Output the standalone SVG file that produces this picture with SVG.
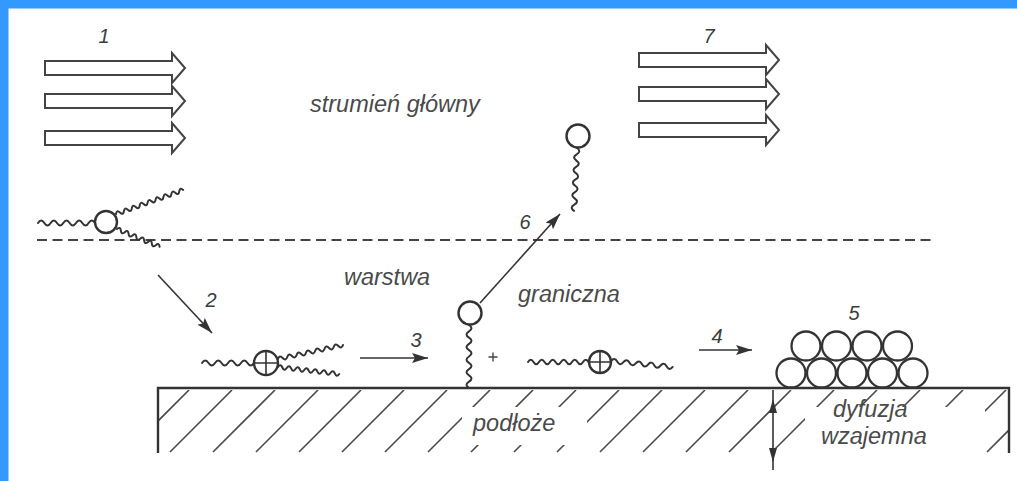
<svg xmlns="http://www.w3.org/2000/svg" width="1017" height="481" viewBox="0 0 1017 481">
  <style>
    .txt { font-family: "Liberation Sans", Arial, sans-serif; font-style: italic; fill: #4a4a4a; font-size: 23.5px; }
    .num { font-family: "Liberation Sans", Arial, sans-serif; font-style: italic; fill: #3c3c3c; font-size: 20px; text-anchor: middle; }
    .blk { fill: #fff; stroke: #444; stroke-width: 2; stroke-linejoin: miter; }
    .wv { fill: none; stroke: #333; stroke-width: 2; stroke-linecap: round; }
    .mol { fill: #fff; stroke: #333; stroke-width: 2.4; }
    .crs { stroke: #333; stroke-width: 1.6; }
    .con { fill: none; stroke: #333; stroke-width: 1.6; }
    .edge { fill: none; stroke: #333; stroke-width: 2.4; }
    .hatch { fill: none; stroke: #4a4a4a; stroke-width: 1.6; }
  </style>
  <defs>
    <!-- hollow block arrow, origin at left end of the shaft -->
    <path id="blk" d="M0 -7H127V-15L140 0L127 15V7H0Z"/>
    <marker id="ah" viewBox="0 0 16 10" refX="16" refY="5" markerWidth="16" markerHeight="10" markerUnits="userSpaceOnUse" orient="auto">
      <path d="M0 0L16 5L0 10L3 5Z" fill="#333"/>
    </marker>
    <clipPath id="sub">
      <rect x="159" y="390" width="849" height="63"/>
    </clipPath>
    <mask id="hm" maskUnits="userSpaceOnUse" x="0" y="0" width="1017" height="481">
      <rect width="1017" height="481" fill="#fff"/>
      <rect x="462" y="407" width="125" height="38" fill="#000"/>
      <rect x="805" y="407" width="180" height="48" fill="#000"/>
    </mask>
  </defs>

  <rect width="1017" height="481" fill="#fff"/>
  <!-- frame -->
  <rect x="0" y="0" width="1017" height="8.5" fill="#3399ff"/>
  <rect x="0" y="0" width="8.5" height="481" fill="#3399ff"/>

  <!-- main stream, inlet -->
  <g id="stream-in">
    <use href="#blk" class="blk" transform="translate(45,68)"/>
    <use href="#blk" class="blk" transform="translate(45,101)"/>
    <use href="#blk" class="blk" transform="translate(45,138)"/>
    <text class="num" x="104" y="43">1</text>
  </g>

  <!-- main stream, outlet -->
  <g id="stream-out">
    <use href="#blk" class="blk" transform="translate(639,60)"/>
    <use href="#blk" class="blk" transform="translate(639,94)"/>
    <use href="#blk" class="blk" transform="translate(639,130)"/>
    <text class="num" x="709" y="43">7</text>
  </g>

  <g id="labels">
    <text class="txt" x="310" y="112">strumień główny</text>
    <text class="txt" x="344" y="285">warstwa</text>
    <text class="txt" x="518" y="302">graniczna</text>
  </g>

  <!-- boundary layer limit -->
  <g id="boundary">
    <path d="M37 240H932" fill="none" stroke="#444" stroke-width="2" stroke-dasharray="10 5.5"/>
  </g>

  <!-- precursor molecule in the gas stream -->
  <g id="mol-gas">
    <path class="wv" transform="translate(38,223)" d="M0 0q3.17-5 6.33 0t6.33 0t6.33 0t6.33 0t6.33 0t6.33 0t6.33 0t6.33 0t6.33 0"/>
    <path class="wv" transform="translate(116,214) rotate(-19.7)" d="M0 0q2.1-4 4.2 0t4.2 0t4.2 0t4.2 0t4.2 0t4.2 0t4.2 0t4.2 0t4.2 0t4.2 0t4.2 0t4.2 0t4.2 0t4.2 0t4.2 0t4.2 0t4.2 0"/>
    <path class="wv" transform="translate(117,229) rotate(22.7)" d="M0 0q2.1-4 4.2 0t4.2 0t4.2 0t4.2 0t4.2 0t4.2 0t4.2 0t4.2 0t4.2 0t4.2 0t4.2 0"/>
    <circle class="mol" cx="106" cy="222" r="11"/>
  </g>

  <!-- adsorbed molecule -->
  <g id="mol-ads">
    <path class="wv" transform="translate(202,363)" d="M0 0q3.25-5 6.5 0t6.5 0t6.5 0t6.5 0t6.5 0t6.5 0t6.5 0t6.5 0"/>
    <path class="wv" transform="translate(278,359) rotate(-12.2)" d="M0 0q2.37-4 4.75 0t4.75 0t4.75 0t4.75 0t4.75 0t4.75 0t4.75 0t4.75 0t4.75 0t4.75 0t4.75 0t4.75 0t4.75 0t4.75 0"/>
    <path class="wv" transform="translate(278,367) rotate(6.5)" d="M0 0q2.2-4 4.4 0t4.4 0t4.4 0t4.4 0t4.4 0t4.4 0t4.4 0t4.4 0t4.4 0t4.4 0t4.4 0t4.4 0t4.4 0t4.4 0"/>
    <circle class="mol" cx="266" cy="363" r="12"/>
    <path class="crs" d="M266 351V375M254 363H278"/>
  </g>

  <!-- by-product standing on the surface -->
  <g id="mol-prod">
    <path class="wv" transform="translate(469,325) rotate(90)" d="M0 0q3.15-5 6.3 0t6.3 0t6.3 0t6.3 0t6.3 0t6.3 0t6.3 0t6.3 0t6.3 0t6.3 0"/>
    <circle class="mol" cx="470" cy="313" r="11.5"/>
  </g>

  <!-- desorbed by-product -->
  <g id="mol-des">
    <path class="wv" transform="translate(577,148) rotate(92.7)" d="M0 0q3.15-5 6.3 0t6.3 0t6.3 0t6.3 0t6.3 0t6.3 0t6.3 0t6.3 0t6.3 0t6.3 0"/>
    <circle class="mol" cx="578" cy="136" r="11.5"/>
  </g>

  <g id="plus">
    <path d="M488.5 357H497.5M493 352.5V361.5" stroke="#444" stroke-width="1.4"/>
  </g>

  <!-- migrating molecule -->
  <g id="mol-mig">
    <path class="wv" transform="translate(528,362)" d="M0 0q2.75-4.5 5.5 0t5.5 0t5.5 0t5.5 0t5.5 0t5.5 0t5.5 0t5.5 0t5.5 0t5.5 0t5.5 0"/>
    <path class="wv" transform="translate(611,361) rotate(5.5)" d="M0 0q3.1-4.5 6.2 0t6.2 0t6.2 0t6.2 0t6.2 0t6.2 0t6.2 0t6.2 0t6.2 0t6.2 0"/>
    <circle class="mol" cx="600" cy="362" r="11"/>
    <path class="crs" d="M600 351V373M589 362H611"/>
  </g>

  <!-- growing film -->
  <g id="film" fill="none" stroke="#333" stroke-width="2.3">
    <circle cx="791" cy="373" r="14.5"/>
    <circle cx="821.5" cy="373" r="14.5"/>
    <circle cx="852" cy="373" r="14.5"/>
    <circle cx="882.5" cy="373" r="14.5"/>
    <circle cx="913" cy="373" r="14.5"/>
    <circle cx="806" cy="346" r="14.5"/>
    <circle cx="836.5" cy="346" r="14.5"/>
    <circle cx="867" cy="346" r="14.5"/>
    <circle cx="897.5" cy="346" r="14.5"/>
    <text class="num" x="854" y="320" stroke="none">5</text>
  </g>

  <!-- substrate -->
  <g id="substrate">
    <path class="hatch" clip-path="url(#sub)" mask="url(#hm)" d="M127 452l62-62M170 452l62-62M213 452l62-62M256 452l62-62M299 452l62-62M342 452l62-62M385 452l62-62M428 452l62-62M471 452l62-62M514 452l62-62M557 452l62-62M600 452l62-62M643 452l62-62M686 452l62-62M729 452l62-62M772 452l62-62M815 452l62-62M858 452l62-62M901 452l62-62M944 452l62-62M987 452l62-62"/>
    <path class="edge" d="M158 453V388H1009V453"/>
    <text class="txt" x="473" y="431">podłoże</text>
    <text class="txt" x="833" y="417">dyfuzja</text>
    <text class="txt" x="821" y="444">wzajemna</text>
  </g>

  <!-- interdiffusion depth -->
  <g id="diffusion">
    <path d="M773 390V470" stroke="#333" stroke-width="1.6"/>
    <path d="M773 399L769 413H777Z" fill="#333"/>
    <path d="M773 462L769 448H777Z" fill="#333"/>
  </g>

  <!-- process steps -->
  <g id="connectors">
    <path class="con" d="M158 275L212 333" marker-end="url(#ah)"/>
    <path class="con" d="M360 358H428" marker-end="url(#ah)"/>
    <path class="con" d="M699 350H752" marker-end="url(#ah)"/>
    <path class="con" d="M480 303L560 214" marker-end="url(#ah)"/>
    <text class="num" x="211" y="307">2</text>
    <text class="num" x="416" y="347">3</text>
    <text class="num" x="717" y="343">4</text>
    <text class="num" x="525" y="229">6</text>
  </g>
</svg>
